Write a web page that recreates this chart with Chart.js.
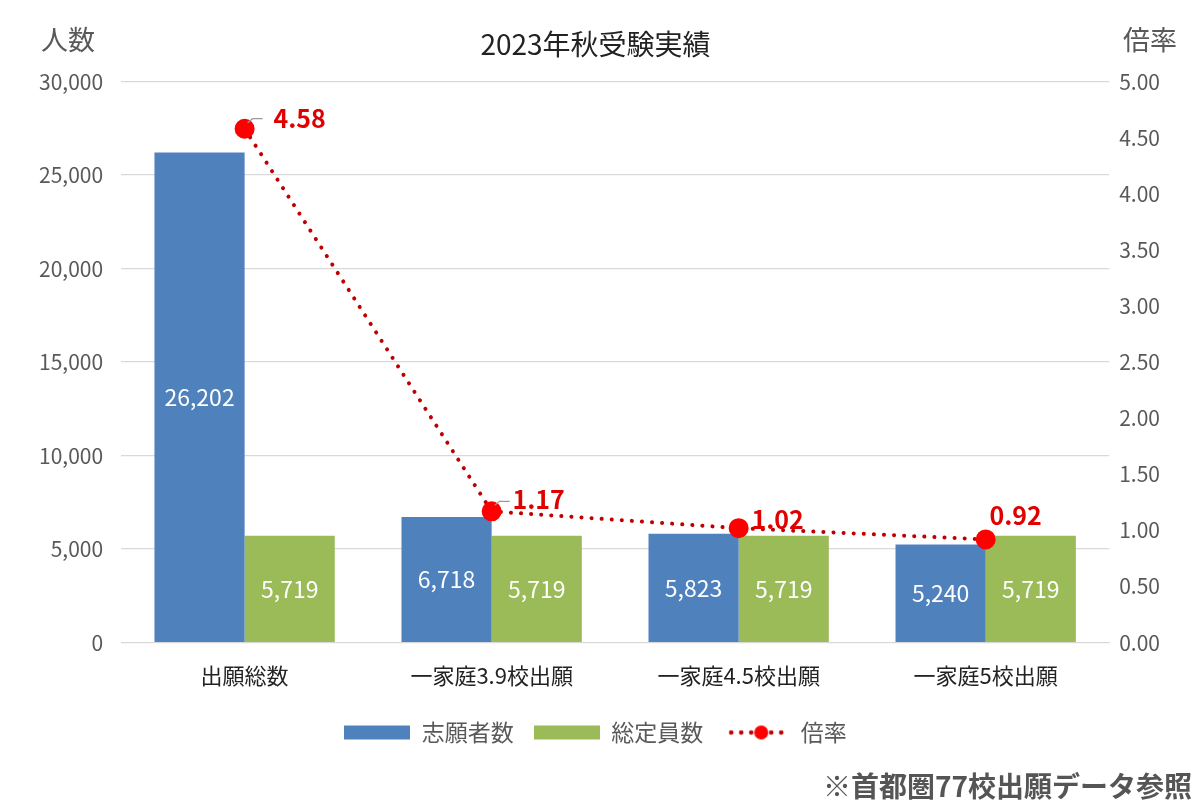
<!DOCTYPE html>
<html lang="ja">
<head>
<meta charset="utf-8">
<script src="https://cdn.jsdelivr.net/npm/chart.js@4"></script>
<style>
  html, body { margin: 0; padding: 0; background: #fff; }
  #wrap { width: 1200px; height: 807px; }
</style>
</head>
<body>
<div id="wrap"><canvas id="chart"></canvas></div>
<script>
// データ
const categories = ['出願総数', '一家庭3.9校出願', '一家庭4.5校出願', '一家庭5校出願'];
const applicants = [26202, 6718, 5823, 5240];
const capacity = [5719, 5719, 5719, 5719];
const ratio = [4.58, 1.17, 1.02, 0.92];

const FONT = "'Noto Sans CJK JP', 'Noto Sans', sans-serif";
const BLUE = '#4F81BD';
const GREEN = '#9BBB59';
const RED = '#E00000';
const DOT = '#C00000';

// 凡例用の画像
function legendImg(kind) {
  const c = document.createElement('canvas');
  c.width = 66; c.height = 16;
  const g = c.getContext('2d');
  if (kind === 'line') {
    g.fillStyle = DOT;
    [8, 18, 28, 48, 58].forEach(x => { g.beginPath(); g.arc(x, 8, 2.3, 0, Math.PI * 2); g.fill(); });
    g.fillStyle = '#FF0000';
    g.beginPath(); g.arc(38, 8, 7, 0, Math.PI * 2); g.fill();
  } else {
    g.fillStyle = kind;
    g.fillRect(0, 1, 66, 14);
  }
  return c;
}

// ラベル・軸見出し・注記を描くプラグイン
const extras = {
  id: 'extras',
  afterDatasetsDraw(chart) {
    const ctx = chart.ctx;
    ctx.save();
    // 棒グラフの値
    ctx.font = '23px ' + FONT;
    ctx.fillStyle = '#fff';
    ctx.textAlign = 'center';
    ctx.textBaseline = 'middle';
    [0, 1].forEach(di => {
      chart.getDatasetMeta(di).data.forEach((bar, i) => {
        const v = chart.data.datasets[di].data[i];
        ctx.fillText(v.toLocaleString('en-US'), bar.x, (bar.y + bar.base) / 2);
      });
    });
    // 倍率のラベル
    const offs = [[55, -10], [47, -12], [39, -9], [30, -24]];
    const leaders = [true, true, false, false];
    chart.getDatasetMeta(2).data.forEach((pt, i) => {
      const [dx, dy] = offs[i];
      if (leaders[i]) {
        ctx.strokeStyle = '#999';
        ctx.lineWidth = 1.2;
        ctx.beginPath();
        ctx.moveTo(pt.x + 3, pt.y - 6);
        ctx.lineTo(pt.x + 8, pt.y - 10);
        ctx.lineTo(pt.x + 18, pt.y - 10);
        ctx.stroke();
      }
      ctx.font = 'bold 25px ' + FONT;
      ctx.fillStyle = RED;
      ctx.fillText(ratio[i].toFixed(2), pt.x + dx, pt.y + dy);
    });
    ctx.restore();
  },
  afterDraw(chart) {
    const ctx = chart.ctx;
    ctx.save();
    ctx.font = '27px ' + FONT;
    ctx.fillStyle = '#595959';
    ctx.textBaseline = 'middle';
    ctx.textAlign = 'center';
    ctx.fillText('人数', 68, 40);
    ctx.fillText('倍率', 1150, 40);
    ctx.font = 'bold 28px ' + FONT;
    ctx.textAlign = 'right';
    ctx.fillStyle = '#555';
    ctx.fillText('※首都圏77校出願データ参照', 1192, 786);
    ctx.restore();
  }
};

new Chart(document.getElementById('chart'), {
  data: {
    labels: categories,
    datasets: [
      { type: 'bar', label: '志願者数', data: applicants, backgroundColor: BLUE, yAxisID: 'y', order: 2,
        categoryPercentage: 0.73, barPercentage: 1.0 },
      { type: 'bar', label: '総定員数', data: capacity, backgroundColor: GREEN, yAxisID: 'y', order: 2,
        categoryPercentage: 0.73, barPercentage: 1.0 },
      { type: 'line', label: '倍率', data: ratio, yAxisID: 'y1', order: 1,
        borderColor: DOT, borderWidth: 4, borderDash: [0.1, 10], borderCapStyle: 'round',
        pointRadius: 8, pointHoverRadius: 8, pointBackgroundColor: '#FF0000', pointBorderColor: '#FF0000',
        tension: 0, fill: false }
    ]
  },
  options: {
    responsive: true,
    maintainAspectRatio: false,
    animation: false,
    layout: { padding: { top: 0, left: 21, right: 30, bottom: 53 } },
    plugins: {
      title: {
        display: true, text: '2023年秋受験実績', color: '#222',
        font: { family: FONT, size: 28, weight: 'normal' },
        padding: { top: 28, bottom: 20 }
      },
      legend: {
        position: 'bottom',
        labels: {
          usePointStyle: true, pointStyleWidth: 66, boxHeight: 16,
          font: { family: FONT, size: 23 }, color: '#595959', padding: 20,
          generateLabels(chart) {
            const imgs = [legendImg(BLUE), legendImg(GREEN), legendImg('line')];
            return chart.data.datasets.map((ds, i) => ({
              text: ds.label, pointStyle: imgs[i], datasetIndex: i, hidden: false,
              fontColor: '#595959', lineWidth: 0, strokeStyle: 'transparent', fillStyle: 'transparent'
            }));
          }
        }
      },
      tooltip: { enabled: false }
    },
    scales: {
      x: {
        grid: { display: false },
        border: { display: true, color: '#d9d9d9' },
        ticks: { color: '#222', font: { family: FONT, size: 22 }, padding: 12 }
      },
      y: {
        position: 'left', min: 0, max: 30000,
        grid: { color: '#d9d9d9', lineWidth: 1.3, drawTicks: false },
        border: { display: false },
        ticks: { stepSize: 5000, color: '#595959', font: { family: FONT, size: 21 }, padding: 18,
          callback: v => v.toLocaleString('en-US') }
      },
      y1: {
        position: 'right', min: 0, max: 5,
        grid: { display: false, drawTicks: false },
        border: { display: false },
        ticks: { stepSize: 0.5, color: '#595959', font: { family: FONT, size: 21 }, padding: 10,
          callback: v => v.toFixed(2) }
      }
    }
  },
  plugins: [extras]
});
</script>
</body>
</html>
